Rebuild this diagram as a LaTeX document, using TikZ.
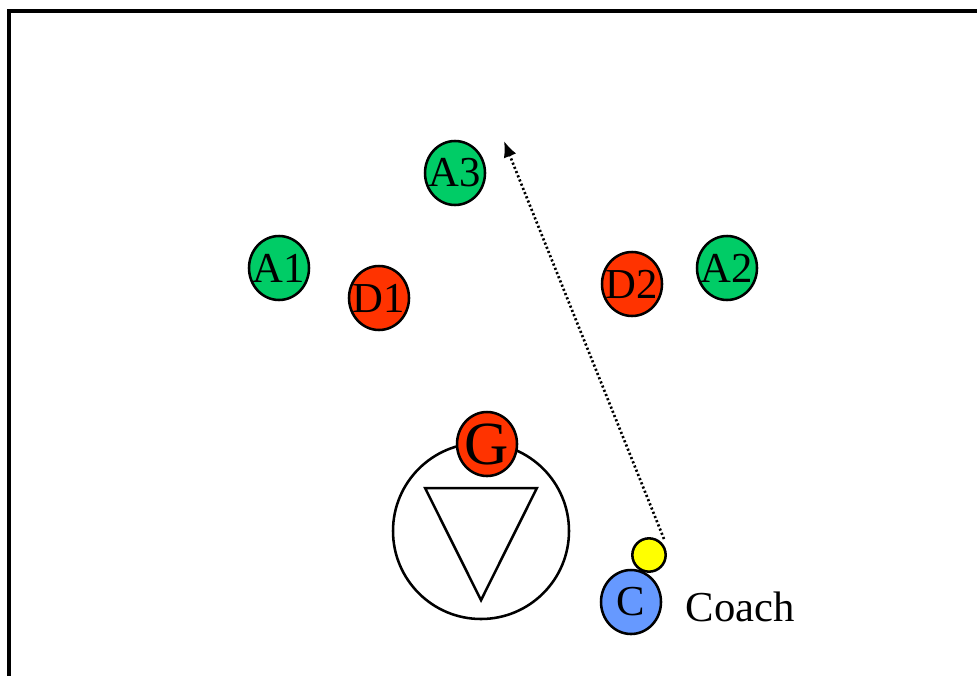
\documentclass[tikz,border=0pt]{standalone}
\usepackage{fontspec}
\setmainfont{Liberation Serif}
\usetikzlibrary{arrows.meta,shapes.geometric}
\definecolor{pgreen}{RGB}{0,204,102}
\definecolor{pred}{RGB}{255,51,0}
\definecolor{pyellow}{RGB}{255,255,0}
\definecolor{pblue}{RGB}{102,153,255}
\newcommand{\plab}[1]{\makebox[0pt]{#1}}
\begin{document}
\begin{tikzpicture}[x=0.75pt,y=-0.75pt,
  player/.style={ellipse,draw=black,line width=1.9pt,inner sep=0pt,
    minimum width=45pt,minimum height=48pt,font=\fontsize{32}{32}\selectfont},
  attacker/.style={player,fill=pgreen},
  defender/.style={player,fill=pred},
  coachball/.style={circle,draw=black,line width=1.9pt,fill=pyellow,inner sep=0pt,minimum size=25pt},
  runline/.style={line width=2pt,dash pattern=on 1.6pt off 1.8pt,-{Latex[length=12pt,width=10pt]}}
]
\clip (0,0) rectangle (977,675);
\fill[white] (0,0) rectangle (977,675);
% frame
\draw[line width=2.3pt] (9,11) rectangle (1000,700);
% goal area
\node[circle,draw=black,line width=1.9pt,minimum size=132pt,inner sep=0pt] (goal) at (481,531) {};
\node[draw=black,line width=1.9pt,isosceles triangle,isosceles triangle apex angle=53,
  shape border rotate=-90,minimum height=84pt,inner sep=0pt,anchor=apex] (tri) at (481,603) {};
% players
\node[attacker] (A3) at (455,173) {\plab{A3}};
\node[attacker] (A1) at (279,268) {\plab{A1}};
\node[defender] (D1) at (379,298) {\plab{D1}};
\node[defender] (D2) at (632,284) {\plab{D2}};
\node[attacker] (A2) at (727,268) {\plab{A2}};
\node[defender,font=\fontsize{46}{46}\selectfont] (G) at (487,444) {\plab{G}};
\node[coachball] (ball) at (649,555) {};
\node[player,fill=pblue] (C) at (631,602) {\plab{C}};
\node[anchor=west,font=\fontsize{32}{32}\selectfont] (coachlbl) at (681,607) {Coach};
% run
\coordinate (runstart) at (664,539);
\coordinate (runend) at (504,141);
\draw[runline] (runstart) -- (runend);
\end{tikzpicture}
\end{document}
